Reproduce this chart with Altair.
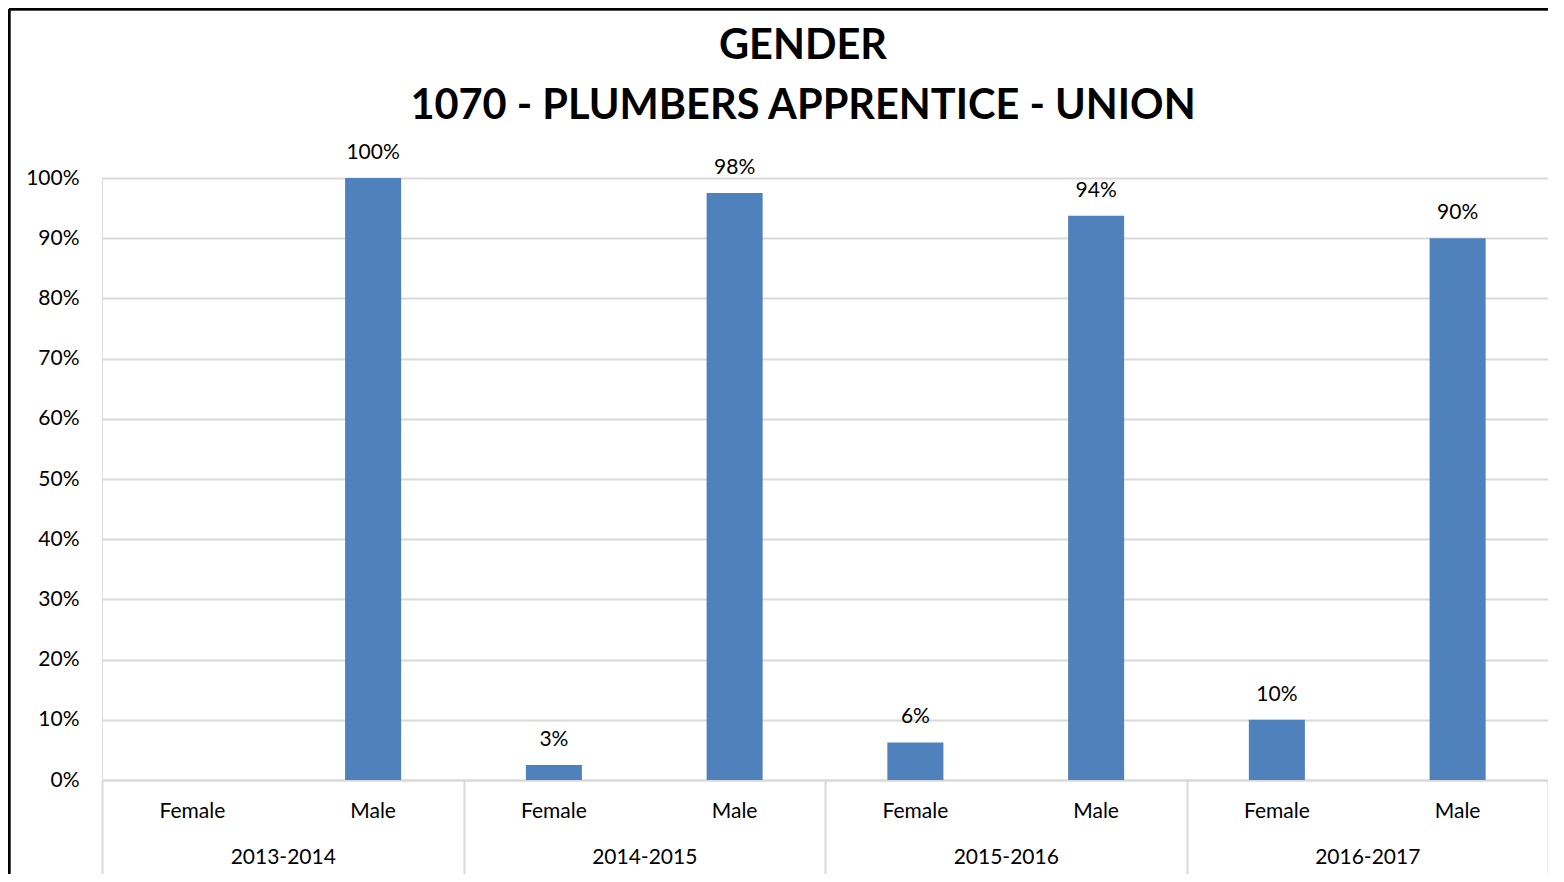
import altair as alt
import pandas as pd

years = ["2013-2014", "2014-2015", "2015-2016", "2016-2017"]
genders = ["Female", "Male"]
female = [0.0, 0.025, 0.0625, 0.10]
male = [1.0, 0.975, 0.9375, 0.90]
y_ticks = [0, 0.1, 0.2, 0.3, 0.4, 0.5, 0.6, 0.7, 0.8, 0.9, 1.0]
title_lines = ["GENDER", "1070 - PLUMBERS APPRENTICE - UNION"]

rows = []
for i, yr in enumerate(years):
    rows.append({"key": yr + "|Female", "year": yr, "gender": "Female", "value": female[i]})
    rows.append({"key": yr + "|Male", "year": yr, "gender": "Male", "value": male[i]})
df = pd.DataFrame(rows)
keys = list(df["key"])
ydf = pd.DataFrame({"year": years})

FONT = "Lato"
BLUE = "#4f81bd"
GRID = "#d9d9d9"

xk = alt.X(
    "key:N",
    sort=keys,
    scale=alt.Scale(paddingInner=0.69, paddingOuter=0.345),
    axis=alt.Axis(
        orient="bottom",
        labelExpr="split(datum.label, '|')[1]",
        ticks=False,
        domain=False,
        labelPadding=20,
        labelAngle=0,
        labelFontSize=21,
        labelFont=FONT,
        labelColor="#000000",
        title=None,
    ),
)
yv = alt.Y(
    "value:Q",
    scale=alt.Scale(domain=[0, 1]),
    axis=alt.Axis(
        values=y_ticks,
        format=".0%",
        grid=True,
        gridColor=GRID,
        gridWidth=2,
        domain=False,
        ticks=False,
        labelPadding=23,
        labelFontSize=21,
        labelFont=FONT,
        labelColor="#000000",
        title=None,
    ),
)

base = alt.Chart(df).encode(x=xk, y=yv)
bars = base.mark_bar(color=BLUE)
labels = (
    base.transform_filter("datum.value > 0")
    .mark_text(dy=-15, fontSize=21, font=FONT, color="#000000", baseline="bottom")
    .encode(text=alt.Text("value:Q", format=".0%"))
)
data_layer = alt.layer(bars, labels)

year_axis = (
    alt.Chart(ydf)
    .mark_point(opacity=0)
    .encode(
        x=alt.X(
            "year:N",
            sort=years,
            scale=alt.Scale(paddingInner=0, paddingOuter=0),
            axis=alt.Axis(
                orient="bottom",
                tickBand="extent",
                tickSize=95,
                tickColor=GRID,
                tickWidth=2,
                domain=True,
                domainColor=GRID,
                domainWidth=2,
                labelPadding=-29,
                labelAngle=0,
                labelFontSize=21,
                labelFont=FONT,
                labelColor="#000000",
                title=None,
            ),
        ),
        y=alt.value(0),
    )
)

border_left = alt.Chart(ydf).mark_rule(color="#000000", strokeWidth=2.5).encode(
    x=alt.value(-93), y=alt.value(-169), y2=alt.value(700)
)
border_top = alt.Chart(ydf).mark_rule(color="#000000", strokeWidth=2.5).encode(
    x=alt.value(-93), x2=alt.value(1446), y=alt.value(-169)
)

chart = (
    alt.layer(data_layer, year_axis, border_left, border_top)
    .resolve_scale(x="independent")
    .properties(
        width=1446,
        height=602,
        autosize=alt.AutoSizeParams(type="none"),
        padding={"left": 94, "top": 170, "right": 0, "bottom": 94},
        title=alt.TitleParams(
            text=title_lines,
            font=FONT,
            fontSize=41.5,
            fontWeight="bold",
            color="#000000",
            anchor="middle",
            dx=-22,
            offset=-120,
            lineHeight=60,
        ),
    )
    .configure_view(stroke=None)
    .configure(background="white")
)

chart.save("out.html", embed_options={"renderer": "svg", "actions": False})
